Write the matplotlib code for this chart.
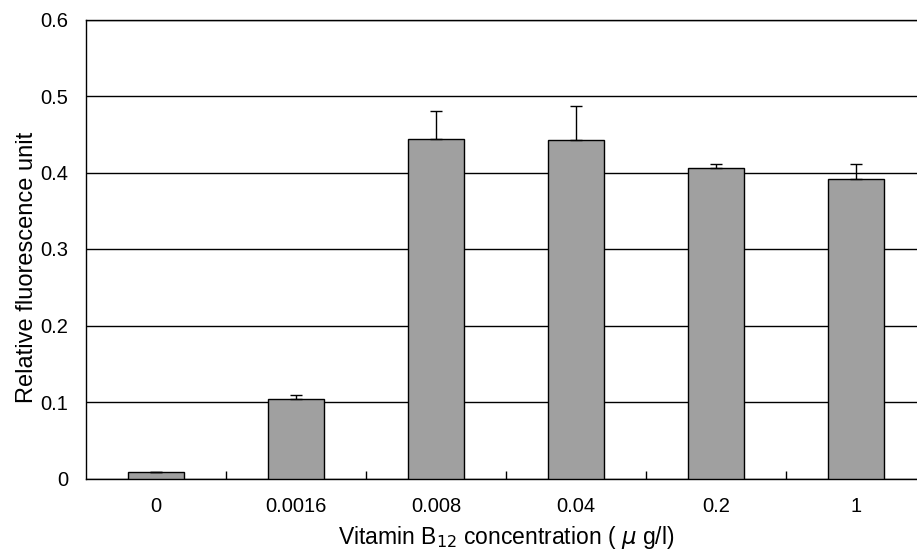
import matplotlib
matplotlib.use("Agg")
import matplotlib.pyplot as plt
import numpy as np

plt.rcParams['font.family'] = ['Liberation Sans', 'DejaVu Sans']

# konsentrasjoner og maaleverdier lest av figuren
konsentrasjon = ["0", "0.0016", "0.008", "0.04", "0.2", "1"]
fluorescens = [0.008, 0.104, 0.444, 0.443, 0.406, 0.391]
feil = [0.0, 0.005, 0.037, 0.044, 0.005, 0.020]
y_ticks = [0, 0.1, 0.2, 0.3, 0.4, 0.5, 0.6]

fig = plt.figure(figsize=(9.17, 5.51), dpi=100)
# aksen gaar litt utenfor bildet til hoyre, som i originalen
ax = fig.add_axes([86 / 917, 72.5 / 551, 840 / 917, 459 / 551])

x = np.arange(len(konsentrasjon))
ax.bar(x, fluorescens, width=0.4, color="#a0a0a0", edgecolor="black",
       linewidth=1.0, zorder=3)
ax.errorbar(x, fluorescens, yerr=[np.zeros(len(feil)), feil], fmt="none",
            ecolor="black", elinewidth=1.0, capsize=4, capthick=1.0, zorder=4)

ax.set_xlim(-0.5, 5.5)
ax.set_ylim(0, 0.6)
ax.set_yticks(y_ticks)
ax.set_yticklabels(["0"] + [f"{v:.1f}" for v in y_ticks[1:]])
ax.yaxis.grid(True, color="black", linewidth=1.0, zorder=0)

ax.set_xticks(x)
ax.set_xticklabels(konsentrasjon)
ax.set_xticks(np.arange(0.5, 5.5, 1), minor=True)
ax.tick_params(axis="x", which="major", length=0, pad=13, labelsize=14.5)
ax.tick_params(axis="x", which="minor", direction="in", length=6, width=1)
ax.tick_params(axis="y", length=0, pad=13, labelsize=14.5)

for side in ["left", "bottom", "top"]:
    ax.spines[side].set_linewidth(1.0)
ax.spines["right"].set_visible(False)

ax.set_xlabel("Vitamin B$_{12}$ concentration ( $\\mu$ g/l)", fontsize=16.5, labelpad=6)
ax.set_ylabel("Relative fluorescence unit", fontsize=17)
# ylabel sitter litt under midten i originalen
ax.yaxis.set_label_coords(-0.057, 0.461)

fig.savefig("out.png", dpi=100)
